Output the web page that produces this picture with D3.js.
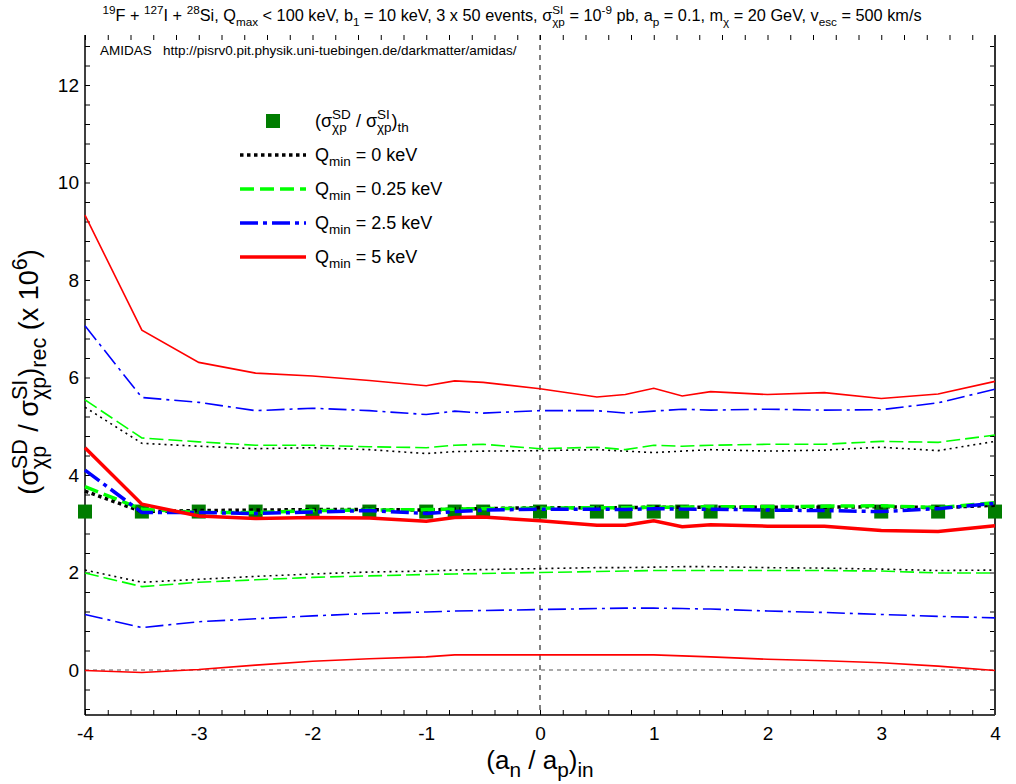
<!DOCTYPE html>
<html lang="en">
<head>
<meta charset="UTF-8">
<title>AMIDAS ratio</title>
<script src="https://cdn.jsdelivr.net/npm/d3@7"></script>
<style>
  body { margin: 0; background: #fff; }
  text { font-family: "Liberation Sans", Arial, sans-serif; fill: #000; }
</style>
</head>
<body>
<script>
// input ratio (a_n / a_p)_in
var xs = [-4, -3.5, -3, -2.5, -2, -1.5, -1, -0.75, -0.5, 0, 0.5, 0.75, 1, 1.25, 1.5, 2, 2.5, 3, 3.5, 4];

// theoretical ratio
var theory = [3.25, 3.25, 3.25, 3.25, 3.25, 3.25, 3.25, 3.25, 3.25, 3.25, 3.25, 3.25, 3.25, 3.25, 3.25, 3.25, 3.25, 3.25, 3.25, 3.25];

// Qmin = 0 keV
var q0Rec = [3.67, 3.25, 3.27, 3.28, 3.29, 3.29, 3.28, 3.30, 3.31, 3.33, 3.33, 3.33, 3.34, 3.34, 3.34, 3.34, 3.34, 3.35, 3.33, 3.38];
var q0Hi  = [5.39, 4.65, 4.59, 4.54, 4.56, 4.52, 4.44, 4.48, 4.49, 4.50, 4.52, 4.49, 4.46, 4.49, 4.52, 4.49, 4.51, 4.57, 4.50, 4.69];
var q0Lo  = [2.05, 1.80, 1.86, 1.92, 1.97, 2.01, 2.03, 2.05, 2.06, 2.08, 2.10, 2.10, 2.11, 2.12, 2.12, 2.10, 2.09, 2.07, 2.04, 2.05];

// Qmin = 0.25 keV
var q025Rec = [3.76, 3.30, 3.23, 3.23, 3.27, 3.28, 3.29, 3.30, 3.31, 3.32, 3.33, 3.33, 3.34, 3.34, 3.35, 3.35, 3.36, 3.37, 3.33, 3.43];
var q025Hi  = [5.54, 4.76, 4.68, 4.61, 4.61, 4.58, 4.56, 4.61, 4.63, 4.54, 4.57, 4.52, 4.61, 4.59, 4.61, 4.63, 4.63, 4.69, 4.67, 4.82];
var q025Lo  = [1.99, 1.71, 1.80, 1.85, 1.90, 1.93, 1.96, 1.97, 1.98, 2.00, 2.02, 2.03, 2.04, 2.04, 2.04, 2.04, 2.04, 2.03, 1.99, 1.99];

// Qmin = 2.5 keV
var q25Rec = [4.10, 3.23, 3.23, 3.21, 3.24, 3.27, 3.21, 3.25, 3.28, 3.30, 3.30, 3.29, 3.31, 3.30, 3.30, 3.28, 3.27, 3.25, 3.31, 3.42];
var q25Hi  = [7.06, 5.59, 5.49, 5.32, 5.37, 5.32, 5.24, 5.31, 5.27, 5.32, 5.32, 5.27, 5.31, 5.35, 5.33, 5.35, 5.33, 5.34, 5.48, 5.76];
var q25Lo  = [1.14, 0.87, 0.99, 1.05, 1.11, 1.16, 1.19, 1.21, 1.22, 1.24, 1.26, 1.27, 1.27, 1.26, 1.25, 1.21, 1.18, 1.14, 1.10, 1.07];

// Qmin = 5 keV
var q5Rec = [4.56, 3.40, 3.16, 3.11, 3.13, 3.12, 3.05, 3.13, 3.14, 3.06, 2.97, 2.97, 3.06, 2.94, 2.98, 2.95, 2.95, 2.86, 2.84, 2.96];
var q5Hi  = [9.33, 6.97, 6.31, 6.09, 6.03, 5.94, 5.83, 5.93, 5.90, 5.77, 5.60, 5.65, 5.78, 5.62, 5.71, 5.65, 5.69, 5.57, 5.66, 5.92];
var q5Lo  = [-0.01, -0.05, 0.01, 0.10, 0.18, 0.23, 0.27, 0.31, 0.31, 0.31, 0.31, 0.31, 0.31, 0.29, 0.27, 0.22, 0.19, 0.15, 0.08, -0.01];

var xTicks = [-4, -3, -2, -1, 0, 1, 2, 3, 4];
var yTicks = [0, 2, 4, 6, 8, 10, 12];
var legendLabels = ["0", "0.25", "2.5", "5"];

var W = 1016, H = 784;
var pLeft = 85, pRight = 995, pTop = 35, pBottom = 715;

var svg = d3.select("body").append("svg")
    .attr("width", W)
    .attr("height", H);

var x = d3.scaleLinear().domain([-4, 4]).range([pLeft, pRight]);
var y = d3.scaleLinear().domain([0, 12]).range([670, 85]);

// writes text made of plain / sup / sub runs; stack:true puts a sub under the previous sup
function rich(t, parts, size, ratio) {
    ratio = ratio || 0.72;
    var cur = 0, prevW = 0, extra = 0;
    parts.forEach(function (p) {
        var off = p.s === "sup" ? -0.42 * size : (p.s === "sub" ? 0.3 * size : 0);
        var ts = t.append("tspan")
            .attr("font-size", p.s ? size * ratio : size)
            .attr("dy", off - cur)
            .text(p.t);
        cur = off;
        if (p.stack) {
            ts.attr("dx", -prevW);
            var w = ts.node().getComputedTextLength();
            extra = Math.max(0, prevW - w);
            prevW = w;
        } else {
            if (extra) ts.attr("dx", extra);
            extra = 0;
            prevW = ts.node().getComputedTextLength();
        }
    });
    if (cur) t.append("tspan").attr("dy", -cur).text("");
    return t;
}

// title
rich(svg.append("text").attr("x", 512).attr("y", 21).attr("text-anchor", "middle"), [
    {t: "19", s: "sup"}, {t: "F + "}, {t: "127", s: "sup"}, {t: "I + "}, {t: "28", s: "sup"},
    {t: "Si, Q"}, {t: "max", s: "sub"}, {t: " < 100 keV, b"}, {t: "1", s: "sub"},
    {t: " = 10 keV, 3 x 50 events, \u03c3"}, {t: "SI", s: "sup"}, {t: "\u03c7p", s: "sub", stack: true},
    {t: " = 10"}, {t: "-9", s: "sup"}, {t: " pb, a"}, {t: "p", s: "sub"}, {t: " = 0.1, m"},
    {t: "\u03c7", s: "sub"}, {t: " = 20 GeV, v"}, {t: "esc", s: "sub"}, {t: " = 500 km/s"}
], 16.3);

// reference lines
svg.append("line")
    .attr("x1", x(0)).attr("x2", x(0)).attr("y1", pTop).attr("y2", pBottom)
    .attr("stroke", "#000").attr("stroke-width", 1).attr("stroke-dasharray", "5,5");
svg.append("line")
    .attr("x1", pLeft).attr("x2", pRight).attr("y1", y(0)).attr("y2", y(0))
    .attr("stroke", "#555").attr("stroke-width", 1).attr("stroke-dasharray", "4,4");

// axes with inward ticks
var xMinor = d3.range(-20, 21).map(function (k) { return k * 0.2; });
var yMinor = d3.range(-2, 33).map(function (k) { return k * 0.4; });
var noDomain = function (g) { g.select(".domain").remove(); };

svg.append("g").attr("transform", "translate(0," + pBottom + ")")
    .call(d3.axisTop(x).tickValues(xMinor).tickSize(5).tickFormat("")).call(noDomain);
svg.append("g").attr("transform", "translate(0," + pTop + ")")
    .call(d3.axisBottom(x).tickValues(xMinor).tickSize(5).tickFormat("")).call(noDomain);
svg.append("g").attr("transform", "translate(" + pLeft + ",0)")
    .call(d3.axisRight(y).tickValues(yMinor).tickSize(5).tickFormat("")).call(noDomain);
svg.append("g").attr("transform", "translate(" + pRight + ",0)")
    .call(d3.axisLeft(y).tickValues(yMinor).tickSize(5).tickFormat("")).call(noDomain);

var fmt = function (d) { return String(d); };

var xAxis = svg.append("g").attr("transform", "translate(0," + pBottom + ")")
    .call(d3.axisBottom(x).tickValues(xTicks).tickSize(0).tickPadding(12).tickFormat(fmt));
xAxis.select(".domain").remove();
xAxis.selectAll("text").attr("font-size", 19).attr("font-family", "Liberation Sans, Arial, sans-serif");

var yAxis = svg.append("g").attr("transform", "translate(" + pLeft + ",0)")
    .call(d3.axisLeft(y).tickValues(yTicks).tickSize(0).tickPadding(6).tickFormat(fmt));
yAxis.select(".domain").remove();
yAxis.selectAll("text").attr("font-size", 19).attr("font-family", "Liberation Sans, Arial, sans-serif");

// frame
svg.append("line").attr("x1", pLeft).attr("x2", pLeft).attr("y1", pTop).attr("y2", pBottom)
    .attr("stroke", "#000").attr("stroke-width", 1.5);
svg.append("line").attr("x1", pLeft).attr("x2", pRight).attr("y1", pBottom).attr("y2", pBottom)
    .attr("stroke", "#000").attr("stroke-width", 1.5);
svg.append("line").attr("x1", pRight).attr("x2", pRight).attr("y1", pTop).attr("y2", pBottom)
    .attr("stroke", "#333").attr("stroke-width", 2);

svg.append("text").attr("x", 100).attr("y", 55).attr("font-size", 13.5)
    .attr("xml:space", "preserve")
    .text("AMIDAS   http://pisrv0.pit.physik.uni-tuebingen.de/darkmatter/amidas/");

// theory squares
svg.append("g").selectAll("rect")
    .data(xs.map(function (d, i) { return [d, theory[i]]; }))
    .enter().append("rect")
    .attr("x", function (d) { return x(d[0]) - 7; })
    .attr("y", function (d) { return y(d[1]) - 7; })
    .attr("width", 14).attr("height", 14)
    .attr("fill", "#007d00");

var series = [
    {color: "#000", thin: "2,4", thick: "3.5,3.5", data: [q0Hi, q0Rec, q0Lo]},
    {color: "#00ff00", thin: "14,5", thick: "14,6", data: [q025Hi, q025Rec, q025Lo]},
    {color: "#0000ff", thin: "18,5,3,5", thick: "18,5,4,5", data: [q25Hi, q25Rec, q25Lo]},
    {color: "#ff0000", thin: null, thick: null, data: [q5Hi, q5Rec, q5Lo]}
];

var line = d3.line()
    .x(function (d) { return x(d[0]); })
    .y(function (d) { return y(d[1]); });

series.forEach(function (s) {
    s.data.forEach(function (vals, k) {
        var mid = k === 1;
        svg.append("path")
            .datum(xs.map(function (d, i) { return [d, vals[i]]; }))
            .attr("d", line)
            .attr("fill", "none")
            .attr("stroke", s.color)
            .attr("stroke-width", mid ? 3.5 : 1.6)
            .attr("stroke-dasharray", mid ? s.thick : s.thin);
    });
});

// legend
var lg = svg.append("g");
lg.append("rect").attr("x", 266).attr("y", 114).attr("width", 14).attr("height", 14).attr("fill", "#007d00");
rich(lg.append("text").attr("x", 315).attr("y", 127), [
    {t: "(\u03c3"}, {t: "SD", s: "sup"}, {t: "\u03c7p", s: "sub", stack: true},
    {t: " / \u03c3"}, {t: "SI", s: "sup"}, {t: "\u03c7p", s: "sub", stack: true},
    {t: ")"}, {t: "th", s: "sub"}
], 18, 0.75);

series.forEach(function (s, i) {
    var ly = 155 + i * 34;
    lg.append("line")
        .attr("x1", 240).attr("x2", 306).attr("y1", ly).attr("y2", ly)
        .attr("stroke", s.color).attr("stroke-width", 3.5)
        .attr("stroke-dasharray", s.thick);
    rich(lg.append("text").attr("x", 315).attr("y", ly + 6), [
        {t: "Q"}, {t: "min", s: "sub"}, {t: " = " + legendLabels[i] + " keV"}
    ], 18, 0.75);
});

// axis titles
rich(svg.append("text").attr("x", 540).attr("y", 769).attr("text-anchor", "middle"), [
    {t: "(a"}, {t: "n", s: "sub"}, {t: " / a"}, {t: "p", s: "sub"}, {t: ")"}, {t: "in", s: "sub"}
], 26, 0.8);

rich(svg.append("text").attr("transform", "translate(38,372) rotate(-90)").attr("text-anchor", "middle"), [
    {t: "(\u03c3"}, {t: "SD", s: "sup"}, {t: "\u03c7p", s: "sub", stack: true},
    {t: " / \u03c3"}, {t: "SI", s: "sup"}, {t: "\u03c7p", s: "sub", stack: true},
    {t: ")"}, {t: "rec", s: "sub"}, {t: " (x 10"}, {t: "6", s: "sup"}, {t: ")"}
], 27, 0.8);
</script>
</body>
</html>
